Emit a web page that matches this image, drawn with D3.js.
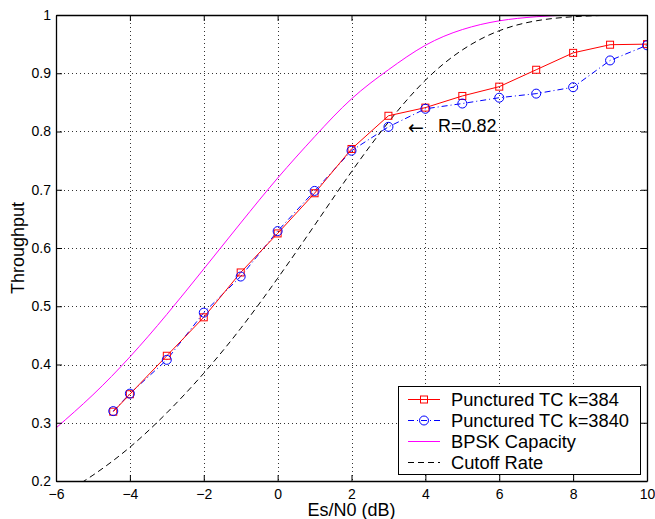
<!DOCTYPE html>
<html>
<head>
<meta charset="utf-8">
<script src="https://cdn.jsdelivr.net/npm/d3@7/dist/d3.min.js"></script>
<style>
  body { margin: 0; background: #fff; }
  svg { display: block; font-family: "Liberation Sans", Arial, Helvetica, sans-serif; }
</style>
</head>
<body>
<div id="chart"></div>
<script>
// Es/N0 points where the simulations were run
var snrSim = [-4.45, -4, -3, -2, -1, 0, 1, 2, 3, 4, 5, 6, 7, 8, 9, 10];
var tc384  = [0.319, 0.349, 0.415, 0.481, 0.558, 0.625, 0.694, 0.770, 0.827, 0.841, 0.861, 0.877, 0.906, 0.935, 0.949, 0.950];
var tc3840 = [0.320, 0.350, 0.408, 0.489, 0.551, 0.629, 0.698, 0.767, 0.808, 0.839, 0.848, 0.858, 0.865, 0.876, 0.922, 0.948];

// theoretical curves
var snrTheory = [-6, -5, -4, -3, -2, -1, 0, 1, 2, 3, 4, 5, 6, 7, 8, 9, 10];
var bpskCap   = [0.291, 0.348, 0.413, 0.486, 0.564, 0.643, 0.720, 0.791, 0.856, 0.906, 0.948, 0.975, 0.990, 0.997, 1.0, 1.0, 1.0];
var cutoff    = [0.170, 0.210, 0.258, 0.317, 0.385, 0.462, 0.548, 0.639, 0.731, 0.816, 0.888, 0.940, 0.973, 0.990, 0.997, 0.9995, 1.0];

var xTicks = [-6, -4, -2, 0, 2, 4, 6, 8, 10];
var yTicks = [0.2, 0.3, 0.4, 0.5, 0.6, 0.7, 0.8, 0.9, 1];

var legendNames = ["Punctured TC k=384", "Punctured TC k=3840", "BPSK Capacity", "Cutoff Rate"];

var W = 655, H = 519;
var pL = 56, pR = 647, pT = 15, pB = 481;

var svg = d3.select("#chart").append("svg")
  .attr("width", W)
  .attr("height", H);

var x = d3.scaleLinear().domain([-6, 10]).range([pL, pR]);
var y = d3.scaleLinear().domain([0.2, 1]).range([pB, pT]);

svg.append("defs").append("clipPath").attr("id", "plot")
  .append("rect")
    .attr("x", pL).attr("y", pT)
    .attr("width", pR - pL).attr("height", pB - pT);

// dotted grid
var grid = svg.append("g")
  .attr("stroke", "#333")
  .attr("stroke-width", 1)
  .attr("stroke-dasharray", "1,3");
grid.selectAll("line.gx")
  .data(xTicks.slice(1, -1))
  .enter().append("line")
    .attr("class", "gx")
    .attr("x1", function(d) { return Math.round(x(d)) + 0.5; })
    .attr("x2", function(d) { return Math.round(x(d)) + 0.5; })
    .attr("y1", pT).attr("y2", pB);
grid.selectAll("line.gy")
  .data(yTicks.slice(1, -1))
  .enter().append("line")
    .attr("class", "gy")
    .attr("y1", function(d) { return Math.round(y(d)) + 0.5; })
    .attr("y2", function(d) { return Math.round(y(d)) + 0.5; })
    .attr("x1", pL).attr("x2", pR);

// curves
var plot = svg.append("g").attr("clip-path", "url(#plot)");

function series(xs, ys) {
  return xs.map(function(d, i) { return [d, ys[i]]; });
}

var smooth = d3.line()
  .x(function(d) { return x(d[0]); })
  .y(function(d) { return y(d[1]); })
  .curve(d3.curveNatural);
var straight = d3.line()
  .x(function(d) { return x(d[0]); })
  .y(function(d) { return y(d[1]); });

plot.append("path")
  .attr("d", smooth(series(snrTheory, bpskCap)))
  .attr("fill", "none")
  .attr("stroke", "#ff00ff")
  .attr("stroke-width", 1);

plot.append("path")
  .attr("d", smooth(series(snrTheory, cutoff)))
  .attr("fill", "none")
  .attr("stroke", "#000")
  .attr("stroke-width", 1)
  .attr("stroke-dasharray", "6,4");

plot.append("path")
  .attr("d", straight(series(snrSim, tc3840)))
  .attr("fill", "none")
  .attr("stroke", "#0000ff")
  .attr("stroke-width", 1)
  .attr("stroke-dasharray", "6,3,1,3");

plot.append("path")
  .attr("d", straight(series(snrSim, tc384)))
  .attr("fill", "none")
  .attr("stroke", "#ff0000")
  .attr("stroke-width", 1);

plot.selectAll("rect.sq")
  .data(series(snrSim, tc384))
  .enter().append("rect")
    .attr("class", "sq")
    .attr("x", function(d) { return x(d[0]) - 3.5; })
    .attr("y", function(d) { return y(d[1]) - 3.5; })
    .attr("width", 7).attr("height", 7)
    .attr("fill", "none")
    .attr("stroke", "#ff0000");

plot.selectAll("circle.ci")
  .data(series(snrSim, tc3840))
  .enter().append("circle")
    .attr("class", "ci")
    .attr("cx", function(d) { return x(d[0]); })
    .attr("cy", function(d) { return y(d[1]); })
    .attr("r", 4.5)
    .attr("fill", "none")
    .attr("stroke", "#0000ff");

// axes, MATLAB style: box with inward ticks
function fmtY(d) { return d === 1 ? "1" : d.toFixed(1); }

var gB = svg.append("g").attr("transform", "translate(0," + pB + ")")
  .call(d3.axisBottom(x).tickValues(xTicks).tickSizeInner(-6).tickSizeOuter(0).tickPadding(8));
var gL = svg.append("g").attr("transform", "translate(" + pL + ",0)")
  .call(d3.axisLeft(y).tickValues(yTicks).tickFormat(fmtY).tickSizeInner(-6).tickSizeOuter(0).tickPadding(5));
var gT = svg.append("g").attr("transform", "translate(0," + pT + ")")
  .call(d3.axisTop(x).tickValues(xTicks).tickFormat("").tickSizeInner(-6).tickSizeOuter(0));
var gR = svg.append("g").attr("transform", "translate(" + pR + ",0)")
  .call(d3.axisRight(y).tickValues(yTicks).tickFormat("").tickSizeInner(-6).tickSizeOuter(0));

[gB, gL, gT, gR].forEach(function(g) {
  g.selectAll(".domain").attr("stroke", "#000").attr("stroke-width", 1.3);
  g.selectAll(".tick line").attr("stroke", "#000");
  g.selectAll("text")
    .attr("font-family", "'Liberation Sans', Arial, sans-serif")
    .attr("font-size", 14)
    .attr("fill", "#000");
});

// axis labels
svg.append("text")
  .attr("x", (pL + pR) / 2)
  .attr("y", 516)
  .attr("text-anchor", "middle")
  .attr("font-size", 18)
  .text("Es/N0 (dB)");

svg.append("text")
  .attr("transform", "translate(24," + ((pT + pB) / 2) + ") rotate(-90)")
  .attr("text-anchor", "middle")
  .attr("font-size", 18)
  .text("Throughput");

// annotation
svg.append("text")
  .attr("x", 408)
  .attr("y", 133.5)
  .attr("font-family", "'DejaVu Sans', sans-serif")
  .attr("font-size", 19)
  .text("\u2190");
svg.append("text")
  .attr("x", 438)
  .attr("y", 132)
  .attr("font-size", 18)
  .text("R=0.82");

// legend
var lg = svg.append("g");
lg.append("rect")
  .attr("x", 398.5).attr("y", 386.5)
  .attr("width", 242).attr("height", 88)
  .attr("fill", "#fff")
  .attr("stroke", "#000")
  .attr("stroke-width", 1);

var rowY = [399.5, 420.5, 441.5, 462.5];
var lgStroke = ["#ff0000", "#0000ff", "#ff00ff", "#000"];
var lgDash = [null, "6,3,1,3", null, "6,4"];

legendNames.forEach(function(name, i) {
  var r = lg.append("g");
  r.append("line")
    .attr("x1", 408).attr("x2", 440)
    .attr("y1", rowY[i]).attr("y2", rowY[i])
    .attr("stroke", lgStroke[i])
    .attr("stroke-dasharray", lgDash[i]);
  if (i === 0) {
    r.append("rect")
      .attr("x", 420.5).attr("y", rowY[i] - 3.5)
      .attr("width", 7).attr("height", 7)
      .attr("fill", "none").attr("stroke", lgStroke[i]);
  }
  if (i === 1) {
    r.append("circle")
      .attr("cx", 424).attr("cy", rowY[i]).attr("r", 4.5)
      .attr("fill", "none").attr("stroke", lgStroke[i]);
  }
  r.append("text")
    .attr("x", 451)
    .attr("y", rowY[i])
    .attr("dy", "0.36em")
    .attr("font-size", 18.3)
    .text(name);
});
</script>
</body>
</html>
